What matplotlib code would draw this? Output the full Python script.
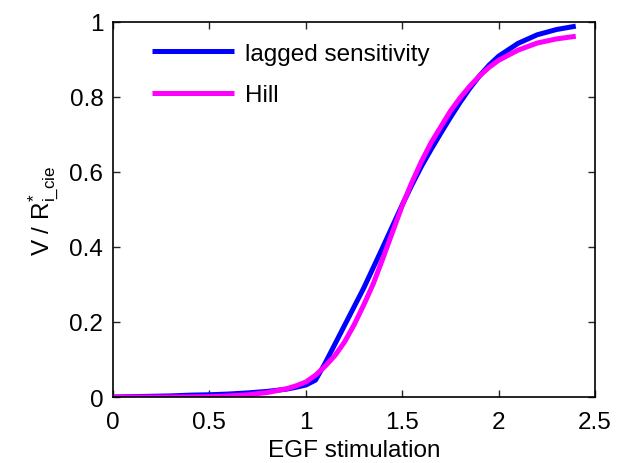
import matplotlib
matplotlib.use("Agg")
import matplotlib.pyplot as plt
from matplotlib.ticker import FixedLocator

plt.rcParams['font.family'] = ['Liberation Sans', 'DejaVu Sans']
plt.rcParams['mathtext.default'] = 'regular'

x_vals = [0.0, 0.1, 0.2, 0.3, 0.4, 0.5, 0.6, 0.7, 0.8, 0.9, 0.95, 1.0, 1.05, 1.1, 1.15,
          1.2, 1.25, 1.3, 1.35, 1.4, 1.45, 1.5, 1.55, 1.6, 1.65, 1.7, 1.75, 1.8, 1.85,
          1.9, 1.95, 2.0, 2.1, 2.2, 2.3, 2.4]
lagged = [0.0, 0.001, 0.002, 0.003, 0.005, 0.006, 0.008, 0.011, 0.015, 0.021, 0.026,
          0.032, 0.045, 0.09, 0.14, 0.19, 0.24, 0.29, 0.345, 0.40, 0.456, 0.512, 0.565,
          0.615, 0.66, 0.703, 0.745, 0.785, 0.822, 0.855, 0.884, 0.908, 0.942, 0.965,
          0.979, 0.988]
hill = [0.0, 0.0, 0.0, 0.0, 0.0005, 0.001, 0.003, 0.006, 0.012, 0.022, 0.03, 0.04,
        0.058, 0.082, 0.11, 0.146, 0.192, 0.245, 0.302, 0.37, 0.44, 0.51, 0.572, 0.628,
        0.678, 0.72, 0.762, 0.797, 0.828, 0.855, 0.878, 0.897, 0.924, 0.943, 0.954,
        0.961]
x_ticks = [0, 0.5, 1, 1.5, 2, 2.5]
x_ticklabels = ['0', '0.5', '1', '1.5', '2', '2.5']
y_ticks = [0, 0.2, 0.4, 0.6, 0.8, 1]
y_ticklabels = ['0', '0.2', '0.4', '0.6', '0.8', '1']

fig = plt.figure(figsize=(6.22, 4.64), dpi=100)
ax = fig.add_axes([0.1817, 0.1422, 0.775, 0.809])

ax.plot(x_vals, lagged, color='#0000ff', lw=3.6, label='lagged sensitivity', solid_capstyle='butt')
ax.plot(x_vals, hill, color='#ff00ff', lw=3.6, label='Hill', solid_capstyle='butt')

ax.set_xlim(0, 2.5)
ax.set_ylim(0, 1)
ax.xaxis.set_major_locator(FixedLocator(x_ticks))
ax.yaxis.set_major_locator(FixedLocator(y_ticks))
ax.set_xticklabels(x_ticklabels)
ax.set_yticklabels(y_ticklabels)
ax.tick_params(direction='in', length=5, width=1, top=True, right=True,
               labelsize=17.5, color='#262626')
ax.tick_params(axis='x', pad=10)
ax.tick_params(axis='y', pad=7)
for s in ax.spines.values():
    s.set_linewidth(1.2)

ax.set_xlabel('EGF stimulation', fontsize=17.5, labelpad=4.5)
ax.set_ylabel(r'V / R$^{*}_{i\_cie}$', fontsize=17.5, labelpad=6)

leg = ax.legend(loc='upper left', frameon=False, fontsize=17.5, handlelength=3.4,
                handletextpad=0.45, labelspacing=0.8, borderaxespad=0.4,
                bbox_to_anchor=(0.04, 0.995))

fig.savefig('out.png', dpi=100)
